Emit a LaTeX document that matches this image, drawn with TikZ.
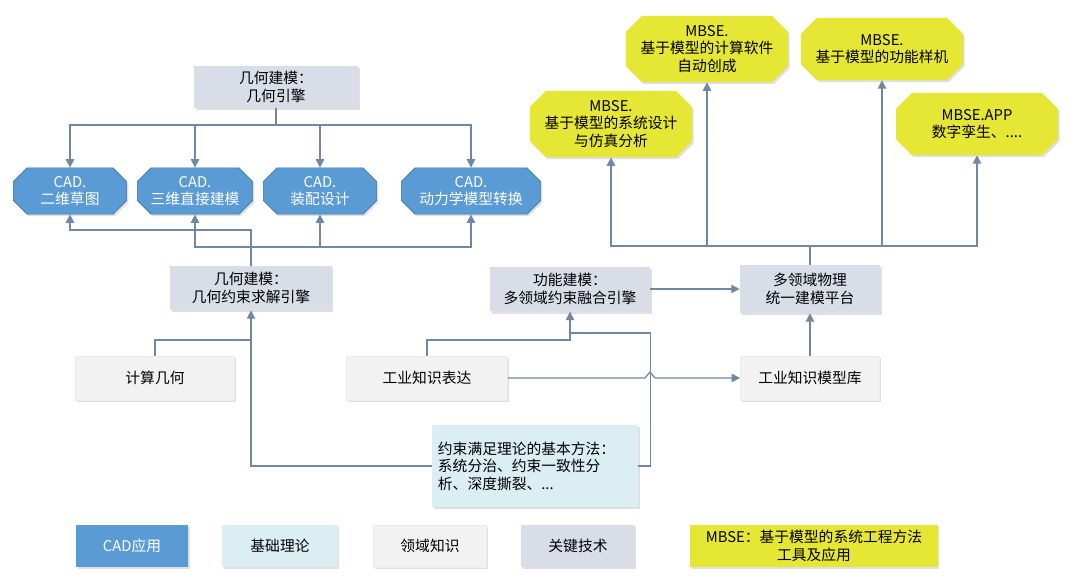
\documentclass[tikz,border=0pt]{standalone}
\usepackage{fontspec}
\setmainfont{Noto Sans CJK SC}
\usepackage{tikz}
\usetikzlibrary{arrows.meta,shapes.misc,shadows}
\usepackage{xcolor}
\definecolor{cadblue}{RGB}{91,155,213}
\definecolor{cadedge}{RGB}{65,113,156}
\definecolor{techgray}{RGB}{216,221,232}
\definecolor{domaingray}{RGB}{242,242,242}
\definecolor{theorycyan}{RGB}{218,238,243}
\definecolor{mbseyellow}{RGB}{230,230,52}
\definecolor{linkgray}{RGB}{112,136,166}

\tikzset{
  softshadow/.style={drop shadow={shadow xshift=1.2pt, shadow yshift=-1.5pt, opacity=0.25, fill=black!50}},
  techbox/.style={fill=techgray, align=center, inner sep=2pt, minimum height=1.1cm, softshadow},
  domainbox/.style={fill=domaingray, draw=black!8, align=center, inner sep=2pt, minimum height=1.1cm, softshadow},
  theorybox/.style={fill=theorycyan, align=center, inner sep=2pt, minimum height=1.05cm, softshadow},
  cadbox/.style={chamfered rectangle, chamfered rectangle xsep=0.17cm, chamfered rectangle ysep=0.17cm,
    fill=cadblue, draw=cadedge, text=white, align=center, inner sep=1pt, minimum height=1.12cm, softshadow},
  mbsebox/.style={chamfered rectangle, chamfered rectangle xsep=0.2cm, chamfered rectangle ysep=0.2cm,
    fill=mbseyellow, align=center, inner sep=1pt, minimum width=4.05cm, minimum height=1.55cm, softshadow},
  link/.style={draw=linkgray, line width=0.9pt}
}

\begin{document}
\begin{tikzpicture}[x=0.025cm, y=-0.025cm, >={Triangle[length=6pt,width=6pt]},
    font=\fontsize{10.5}{12.5}\selectfont]
    \fill[white] (0,0) rectangle (1080,584);
    \useasboundingbox (0,0) rectangle (1080,584);

    % geometry engine and CAD applications
    \node[techbox, minimum width=4.1cm, minimum height=1.05cm] (geoengine) at (276,87) {几何建模：\\几何引擎};
    \node[cadbox, minimum width=2.83cm] (cadsketch) at (70,191) {CAD.\\二维草图};
    \node[cadbox, minimum width=2.88cm] (cadsolid) at (195,191) {CAD.\\三维直接建模};
    \node[cadbox, minimum width=2.83cm] (cadassembly) at (320,191) {CAD.\\装配设计};
    \node[cadbox, minimum width=3.48cm] (caddynamics) at (471,191) {CAD.\\动力学模型转换};

    % key technologies and knowledge
    \node[techbox, minimum width=4.03cm] (geosolver) at (251,288) {几何建模：\\几何约束求解引擎};
    \node[techbox, minimum width=4.0cm, minimum height=1.12cm] (funcmodel) at (570,289) {功能建模：\\多领域约束融合引擎};
    \node[techbox, minimum width=3.5cm, minimum height=1.2cm] (mbplatform) at (810,289) {多领域物理\\统一建模平台};
    \node[domainbox, minimum width=3.98cm] (compgeo) at (155,378) {计算几何};
    \node[domainbox, minimum width=4.03cm] (knowexpr) at (427,378) {工业知识表达};
    \node[domainbox, minimum width=3.48cm] (knowlib) at (810,378) {工业知识模型库};
    \node[theorybox, text width=4.85cm, inner xsep=0.15cm, minimum height=2.05cm, align=left] (csp) at (535,466)
      {约束满足理论的基本方法：\\系统分治、约束一致性分\\析、深度撕裂、...};

    % MBSE applications
    \node[mbsebox] (mbsedesign) at (611,124) {MBSE.\\基于模型的系统设计\\与仿真分析};
    \node[mbsebox] (mbsecode) at (707,49) {MBSE.\\基于模型的计算软件\\自动创成};
    \node[mbsebox] (mbseproto) at (882,49) {MBSE.\\基于模型的功能样机};
    \node[mbsebox] (mbseapp) at (977,124) {MBSE.APP\\数字孪生、....};

    % legend
    \node[fill=cadblue, text=white, minimum width=2.8cm, minimum height=1.05cm, softshadow] (legcad) at (132,546) {CAD应用};
    \node[theorybox, minimum width=2.88cm] (legtheory) at (280,546) {基础理论};
    \node[domainbox, minimum width=2.83cm, minimum height=1.05cm] (legdomain) at (430,546) {领域知识};
    \node[techbox, minimum width=2.83cm, minimum height=1.05cm] (legtech) at (578,546) {关键技术};
    \node[fill=mbseyellow, align=center, minimum width=6.18cm, minimum height=1.05cm, softshadow] (legmbse) at (814,546)
      {MBSE：基于模型的系统工程方法\\工具及应用};

    % connectors
    \coordinate (topbus) at (276,125);
    \draw[link] (geoengine.south) -- (topbus);
    \foreach \n in {cadsketch,cadsolid,cadassembly,caddynamics}
      \draw[link,->] (topbus) -| (\n.north);

    \coordinate (upbus) at (251,230);
    \coordinate (lowbus) at (251,247);
    \draw[link,->] (geosolver.north) -- (upbus) -| (cadsketch.south);
    \foreach \n in {cadsolid,cadassembly,caddynamics}
      \draw[link,->] (lowbus) -| (\n.south);

    \coordinate (geojoin) at (251,340);
    \draw[link] (compgeo.north) |- (geojoin);
    \draw[link,->] (csp.west) -| (geosolver.south);

    \coordinate (funcjoin) at (570,340);
    \coordinate (cspjoin) at (570,333);
    \draw[link,->] (knowexpr.north) |- (funcjoin) -- (funcmodel.south);
    \draw[link] (csp.east) -- ++(12,0) |- (cspjoin);
    \draw[link,->] (knowexpr.east) -- (645,378) -- (650,372) -- (655,378) -- (knowlib.west);

    \draw[link,->] (knowlib.north) -- (mbplatform.south);
    \draw[link,->] (funcmodel.east) -- (mbplatform.west);

    \coordinate (mbsebus) at (810,246);
    \draw[link] (mbplatform.north) -- (mbsebus);
    \foreach \n in {mbsedesign,mbsecode,mbseproto,mbseapp}
      \draw[link,->] (mbsebus) -| (\n.south);
  \end{tikzpicture}
\end{document}
